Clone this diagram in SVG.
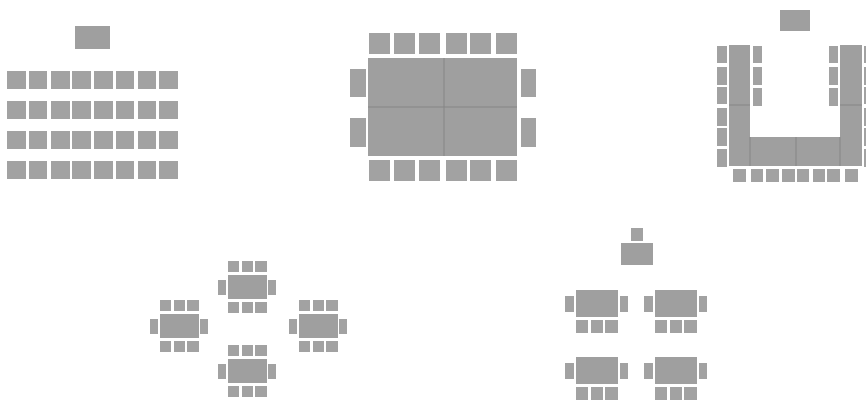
<svg xmlns="http://www.w3.org/2000/svg" width="866" height="400" viewBox="0 0 866 400">
<style>
rect{fill:#a2a2a2}
.t{fill:#9f9f9f}
.l{stroke:#858585;stroke-width:1;fill:none}
#all{filter:url(#soft)}
</style>
<defs>
<filter id="soft" x="0" y="0" width="100%" height="100%"><feGaussianBlur stdDeviation="0.6"/></filter>
<g id="ca"><rect x="7" width="19" height="18"/><rect x="29" width="18" height="18"/><rect x="51" width="19" height="18"/><rect x="72" width="19" height="18"/><rect x="94" width="19" height="18"/><rect x="116" width="18" height="18"/><rect x="138" width="18" height="18"/><rect x="159" width="19" height="18"/></g>
<g id="cb"><rect x="369" width="21" height="21"/><rect x="394" width="21" height="21"/><rect x="419" width="21" height="21"/><rect x="446" width="21" height="21"/><rect x="470" width="21" height="21"/><rect x="496" width="21" height="21"/></g>
<g id="dt"><rect class="t" x="10" y="14" width="39" height="24"/><rect x="10" width="11" height="11"/><rect x="24" width="11" height="11"/><rect x="37" width="12" height="11"/><rect x="10" y="41" width="11" height="11"/><rect x="24" y="41" width="11" height="11"/><rect x="37" y="41" width="12" height="11"/><rect y="19" width="8" height="15"/><rect x="50" y="19" width="8" height="15"/></g>
<g id="et"><rect class="t" x="11" width="42" height="27"/><rect y="6" width="9" height="16"/><rect x="55" y="6" width="8" height="16"/><rect x="11" y="30" width="12" height="13"/><rect x="26" y="30" width="12" height="13"/><rect x="40" y="30" width="13" height="13"/></g>
</defs>
<rect x="0" y="0" width="866" height="400" style="fill:#fff"/>
<g id="all">
<g id="classroom">
<rect class="t" x="75" y="26" width="35" height="23"/>
<use href="#ca" y="71"/><use href="#ca" y="101"/><use href="#ca" y="131"/><use href="#ca" y="161"/>
</g>
<g id="boardroom">
<use href="#cb" y="33"/><use href="#cb" y="160"/>
<rect class="t" x="368" y="58" width="149" height="98"/>
<path class="l" d="M444 58V156M368 107H517"/>
<rect x="350" y="69" width="16" height="28"/><rect x="350" y="118" width="16" height="29"/>
<rect x="521" y="69" width="15" height="28"/><rect x="521" y="118" width="15" height="29"/>
</g>
<g id="ushape">
<rect class="t" x="780" y="10" width="30" height="21"/>
<rect class="t" x="729" y="45" width="21" height="121"/>
<rect class="t" x="750" y="137" width="90" height="29"/>
<rect class="t" x="840" y="45" width="22" height="121"/>
<path class="l" d="M729 105H750M840 105H862M796 137V166M750 137V166M840 137V166"/>
<rect x="717" y="46" width="10" height="17"/><rect x="717" y="67" width="10" height="18"/><rect x="717" y="87" width="10" height="17"/><rect x="717" y="108" width="10" height="18"/><rect x="717" y="128" width="10" height="18"/><rect x="717" y="149" width="10" height="18"/>
<rect x="753" y="46" width="9" height="17"/><rect x="753" y="67" width="9" height="18"/><rect x="753" y="88" width="9" height="18"/>
<rect x="829" y="46" width="9" height="17"/><rect x="829" y="67" width="9" height="18"/><rect x="829" y="88" width="9" height="18"/>
<rect x="864" y="46" width="2" height="17"/><rect x="864" y="67" width="2" height="18"/><rect x="864" y="87" width="2" height="17"/><rect x="864" y="108" width="2" height="18"/><rect x="864" y="128" width="2" height="18"/><rect x="864" y="149" width="2" height="18"/>
<rect x="733" y="169" width="13" height="13"/><rect x="751" y="169" width="12" height="13"/><rect x="766" y="169" width="13" height="13"/><rect x="782" y="169" width="13" height="13"/><rect x="797" y="169" width="12" height="13"/><rect x="813" y="169" width="12" height="13"/><rect x="827" y="169" width="13" height="13"/><rect x="845" y="169" width="13" height="13"/>
</g>
<g id="clusters">
<use href="#dt" x="218" y="261"/>
<use href="#dt" x="150" y="300"/>
<use href="#dt" x="289" y="300"/>
<use href="#dt" x="218" y="345"/>
</g>
<g id="rows">
<rect x="631" y="228" width="12" height="13"/>
<rect class="t" x="621" y="243" width="32" height="22"/>
<use href="#et" x="565" y="290"/>
<use href="#et" x="644" y="290"/>
<use href="#et" x="565" y="357"/>
<use href="#et" x="644" y="357"/>
</g>
</g>
</svg>
